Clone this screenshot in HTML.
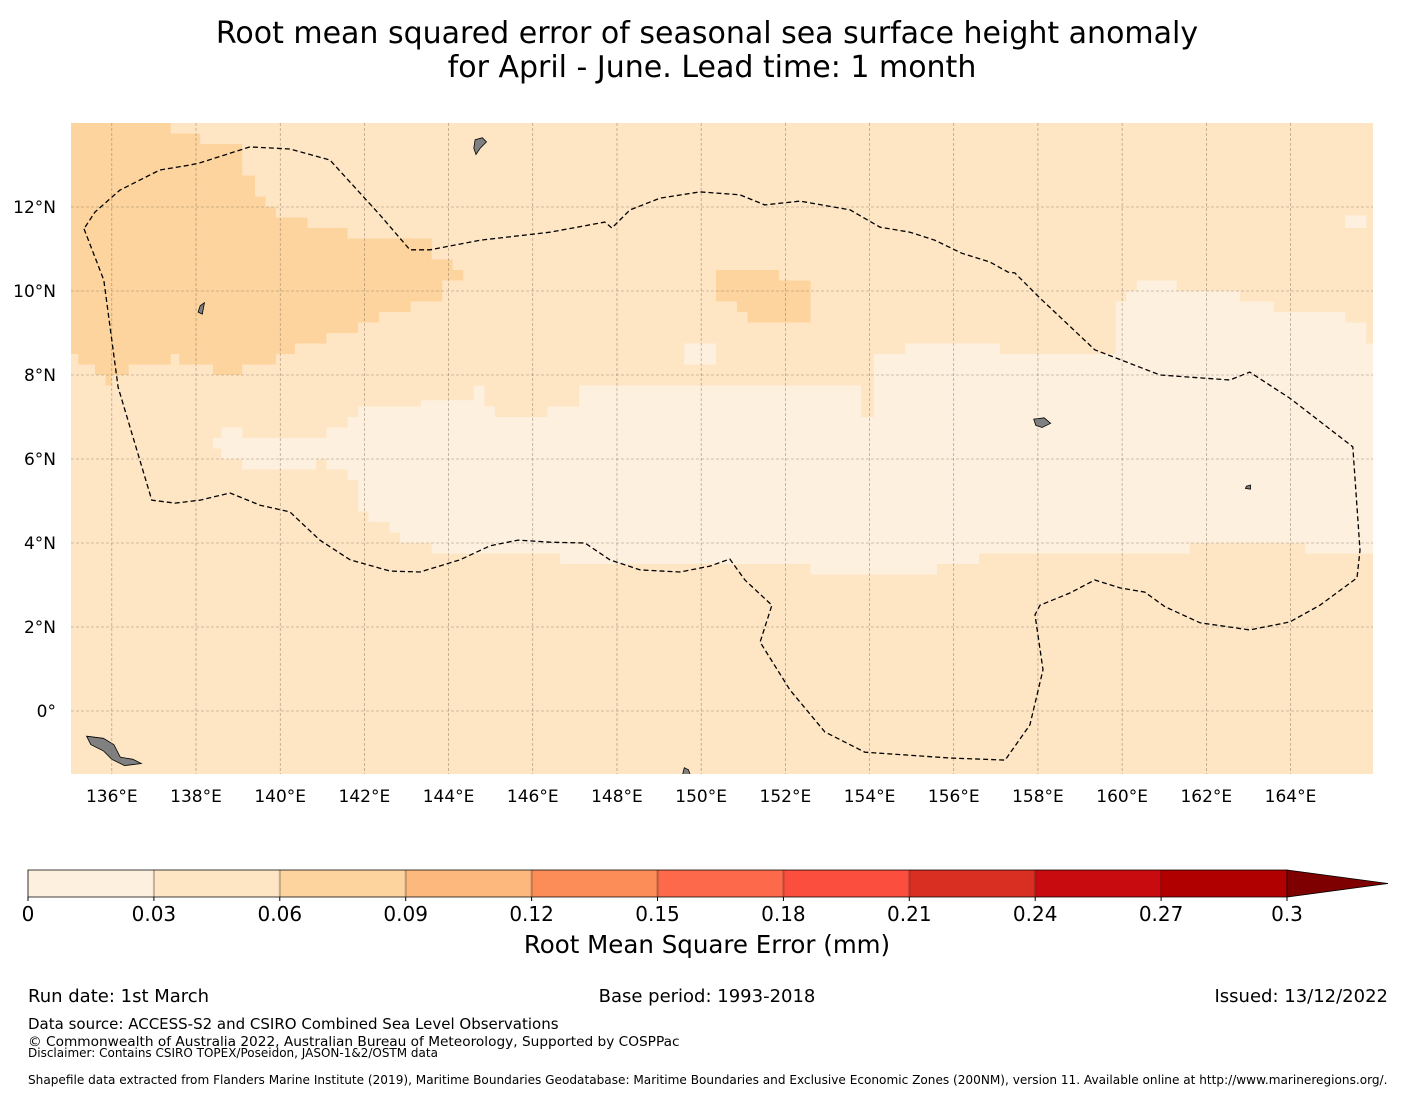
<!DOCTYPE html>
<html><head><meta charset="utf-8">
<style>
body{margin:0;background:#fff;width:1416px;height:1095px;overflow:hidden;font-family:"DejaVu Sans","Liberation Sans",sans-serif;}
svg{position:absolute;left:0;top:0}
</style></head>
<body>
<svg id="s" width="1416" height="1095" xmlns="http://www.w3.org/2000/svg">
<text x="707" y="43" font-size="30" text-anchor="middle">Root mean squared error of seasonal sea surface height anomaly</text>
<text x="712" y="77" font-size="30" text-anchor="middle">for April - June. Lead time: 1 month</text>
<defs><clipPath id="mc"><rect x="71" y="123" width="1302" height="651"/></clipPath></defs>
<g id="map" clip-path="url(#mc)"></g>
<g id="axes"></g>
<g id="cbar"></g>
<text x="707" y="953" font-size="24.5" text-anchor="middle">Root Mean Square Error (mm)</text>
<text x="28" y="1002" font-size="18">Run date: 1st March</text>
<text x="707" y="1002" font-size="18" text-anchor="middle">Base period: 1993-2018</text>
<text x="1388" y="1002" font-size="18" text-anchor="end">Issued: 13/12/2022</text>
<text x="28" y="1029" font-size="15">Data source: ACCESS-S2 and CSIRO Combined Sea Level Observations</text>
<text x="28" y="1046" font-size="13.7">© Commonwealth of Australia 2022, Australian Bureau of Meteorology, Supported by COSPPac</text>
<text x="28" y="1057" font-size="12">Disclaimer: Contains CSIRO TOPEX/Poseidon, JASON-1&amp;2/OSTM data</text>
<text x="28" y="1084" font-size="12.1">Shapefile data extracted from Flanders Marine Institute (2019), Maritime Boundaries Geodatabase: Maritime Boundaries and Exclusive Economic Zones (200NM), version 11. Available online at http://www.marineregions.org/.</text>
</svg>
<script>
const NS="http://www.w3.org/2000/svg";
const binEdges=[0,0.03,0.06,0.09,0.12,0.15,0.18,0.21,0.24,0.27,0.3];
const binColors=["#fef0df","#fee6c5","#fdd49e","#fdb87e","#fc8d59","#fc6a4b","#fb4e3e","#d92f22","#c80b0f","#b10000"];
const extColor="#7f0000";
const lonTicks=[136,138,140,142,144,146,148,150,152,154,156,158,160,162,164];
const latTicks=[0,2,4,6,8,10,12];
const backgroundValue=0.045;
const regionValues=[0.075,0.075,0.015,0.015,0.015];
const regionPolys=[
[[135,14],[137.4,14],[137.4,13.75],[138.1,13.75],[138.1,13.5],[139.1,13.5],[139.1,12.75],[139.4,12.75],[139.4,12.25],[139.65,12.25],[139.65,12],[139.9,12],[139.9,11.75],[140.65,11.75],[140.65,11.5],[141.6,11.5],[141.6,11.25],[143.6,11.25],[143.6,10.75],[144.1,10.75],[144.1,10.5],[144.35,10.5],[144.35,10.25],[143.85,10.25],[143.85,9.75],[143.1,9.75],[143.1,9.5],[142.35,9.5],[142.35,9.25],[141.85,9.25],[141.85,9],[141.1,9],[141.1,8.75],[140.35,8.75],[140.35,8.5],[139.9,8.5],[139.9,8.25],[139.1,8.25],[139.1,8],[138.4,8],[138.4,8.25],[137.6,8.25],[137.6,8.5],[137.4,8.5],[137.4,8.25],[136.4,8.25],[136.4,8],[136,8],[136,7.75],[135.85,7.75],[135.85,8],[135.6,8],[135.6,8.25],[135.2,8.25],[135.2,8.5],[135,8.5]],
[[150.35,10.5],[151.85,10.5],[151.85,10.25],[152.6,10.25],[152.6,9.25],[151.1,9.25],[151.1,9.5],[150.85,9.5],[150.85,9.75],[150.35,9.75]],
[[138.4,6.5],[138.6,6.5],[138.6,6.75],[139.1,6.75],[139.1,6.5],[141.1,6.5],[141.1,6.75],[141.6,6.75],[141.6,7],[141.85,7],[141.85,7.25],[143.35,7.25],[143.35,7.4],[144.6,7.4],[144.6,7.75],[144.85,7.75],[144.85,7.25],[145.1,7.25],[145.1,7],[146.35,7],[146.35,7.25],[147.1,7.25],[147.1,7.75],[153.8,7.75],[153.8,7],[154.1,7],[154.1,8.5],[154.85,8.5],[154.85,8.75],[155.6,8.75],[155.6,9],[155.6,8.75],[157.1,8.75],[157.1,8.5],[159.85,8.5],[159.85,9.75],[160.1,9.75],[160.1,10],[160.35,10],[160.35,10.25],[161.3,10.25],[161.3,10],[162.8,10],[162.8,9.75],[163.6,9.75],[163.6,9.5],[165.3,9.5],[165.3,9.25],[165.8,9.25],[165.8,8.75],[166.1,8.75],[166.1,3.75],[164.35,3.75],[164.35,4],[161.6,4],[161.6,3.75],[156.6,3.75],[156.6,3.5],[155.6,3.5],[155.6,3.25],[152.6,3.25],[152.6,3.5],[146.65,3.5],[146.65,3.75],[143.6,3.75],[143.6,4],[142.85,4],[142.85,4.25],[142.6,4.25],[142.6,4.5],[142.1,4.5],[142.1,4.75],[141.85,4.75],[141.85,5.5],[141.6,5.5],[141.6,5.75],[141.1,5.75],[141.1,6],[140.85,6],[140.85,5.75],[139.1,5.75],[139.1,6],[138.6,6],[138.6,6.25],[138.4,6.25]],
[[149.6,8.75],[150.35,8.75],[150.35,8.25],[149.6,8.25]],
[[165.3,11.8],[165.8,11.8],[165.8,11.5],[165.3,11.5]]
];
const eez=[[135.34,11.48],[135.81,10.26],[136.15,7.71],[136.95,5.02],[137.5,4.95],[138.09,5.02],[138.81,5.19],[139.52,4.9],[140.23,4.74],[140.94,4.07],[141.66,3.6],[142.61,3.33],[143.32,3.31],[144.27,3.6],[144.98,3.93],[145.65,4.07],[146.41,4.02],[147.24,4],[147.83,3.6],[148.55,3.36],[149.5,3.31],[150.21,3.45],[150.68,3.62],[151.04,3.12],[151.68,2.52],[151.4,1.64],[152.11,0.5],[152.94,-0.5],[153.89,-0.98],[155.91,-1.12],[157.22,-1.17],[157.81,-0.33],[158.12,0.98],[157.93,2.29],[158.05,2.52],[158.76,2.81],[159.35,3.12],[159.95,2.93],[160.54,2.83],[161.02,2.48],[161.85,2.1],[163.03,1.93],[163.98,2.12],[164.7,2.52],[165.58,3.17],[165.65,3.83],[165.48,6.29],[163.98,7.45],[163.03,8.07],[162.56,7.88],[160.9,8],[159.35,8.6],[158.05,9.83],[157.45,10.43],[157.29,10.45],[156.86,10.69],[156.19,10.9],[155.55,11.21],[154.96,11.4],[154.25,11.52],[153.54,11.93],[152.35,12.14],[151.51,12.05],[150.92,12.29],[149.97,12.36],[149.02,12.21],[148.31,11.93],[147.88,11.5],[147.71,11.64],[146.41,11.4],[144.75,11.21],[143.56,10.98],[143.08,10.98],[142.37,11.81],[141.18,13.12],[140.23,13.38],[139.28,13.43],[138.09,13.05],[137.86,13],[137.14,12.88],[136.19,12.4],[135.6,11.88],[135.34,11.48]];
const islands=[
[[144.63,13.6],[144.8,13.65],[144.9,13.55],[144.75,13.4],[144.65,13.25],[144.6,13.4]],
[[138.1,9.65],[138.2,9.72],[138.15,9.45],[138.05,9.5]],
[[157.9,6.95],[158.15,6.98],[158.3,6.85],[158.1,6.75],[157.95,6.8]],
[[162.95,5.35],[163.05,5.38],[163.05,5.28],[162.93,5.3]],
[[135.4,-0.6],[135.8,-0.65],[136.05,-0.8],[136.2,-1.1],[136.5,-1.15],[136.7,-1.25],[136.3,-1.3],[136.0,-1.15],[135.8,-0.95],[135.5,-0.8]],
[[149.6,-1.35],[149.7,-1.4],[149.75,-1.55],[149.55,-1.55]]
];
const L0=135.03,L1=165.96,T=14,B=-1.5,X0=71,X1=1373,Y0=123,Y1=774;
const xs=l=>X0+(l-L0)/(L1-L0)*(X1-X0);
const ys=a=>Y0+(T-a)/(T-B)*(Y1-Y0);
const colorFor=v=>{for(let i=0;i<binColors.length;i++)if(v<binEdges[i+1])return binColors[i];return extColor;};
const mk=(t,a,p)=>{const e=document.createElementNS(NS,t);for(const k in a)e.setAttribute(k,a[k]);p.appendChild(e);return e;};
const pts=p=>p.map(q=>xs(q[0]).toFixed(1)+","+ys(q[1]).toFixed(1)).join(" ");
const map=document.getElementById("map"),ax=document.getElementById("axes"),cb=document.getElementById("cbar");
let bg=mk("rect",{x:X0,y:Y0,width:X1-X0,height:Y1-Y0,fill:colorFor(backgroundValue)},map);


regionPolys.forEach((p,i)=>{const e=mk("polygon",{points:pts(p),fill:colorFor(regionValues[i])},map);

});
islands.forEach((p,i)=>{const e=mk("polygon",{points:pts(p),fill:"#808080",stroke:"#000","stroke-width":0.8},map);

});
lonTicks.forEach(l=>{const g=mk("line",{x1:xs(l),x2:xs(l),y1:Y0,y2:Y1,stroke:"#7a6a55","stroke-width":0.6,"stroke-dasharray":"3,2",opacity:0.7},map);


const t=mk("text",{x:xs(l),y:802,"font-size":17,"text-anchor":"middle"},ax);t.textContent=l+"°E";

});
latTicks.forEach(a=>{const g=mk("line",{x1:X0,x2:X1,y1:ys(a),y2:ys(a),stroke:"#7a6a55","stroke-width":0.6,"stroke-dasharray":"3,2",opacity:0.7},map);


const t=mk("text",{x:56,y:ys(a)+6,"font-size":17,"text-anchor":"end"},ax);t.textContent=a===0?"0°":a+"°N";

});
const ez=mk("polyline",{points:pts(eez),fill:"none",stroke:"#000","stroke-width":1.3,"stroke-dasharray":"5,3"},map);


const CX0=28,CX1=1287,CY=870,CH=27;
const cxs=v=>CX0+v/binEdges[binEdges.length-1]*(CX1-CX0);
binColors.forEach((c,i)=>{const r=mk("rect",{x:cxs(binEdges[i]),y:CY,width:cxs(binEdges[i+1])-cxs(binEdges[i]),height:CH,fill:c},cb);


if(i>0){const d=mk("line",{x1:cxs(binEdges[i]),x2:cxs(binEdges[i]),y1:CY,y2:CY+CH,stroke:"#000","stroke-opacity":0.25,"stroke-width":2},cb);

}});
const ext=mk("polygon",{points:`${CX1},${CY} ${CX1+101},${CY+CH/2} ${CX1},${CY+CH}`,fill:extColor,stroke:"#000","stroke-width":0.8},cb);


const ol=mk("polyline",{points:`${CX1},${CY} ${CX0},${CY} ${CX0},${CY+CH} ${CX1},${CY+CH}`,fill:"none",stroke:"#000","stroke-width":0.8},cb);


binEdges.forEach(v=>{const k=mk("line",{x1:cxs(v),x2:cxs(v),y1:CY+CH,y2:CY+CH+4,stroke:"#000"},cb);


const t=mk("text",{x:cxs(v),y:921,"font-size":20,"text-anchor":"middle"},cb);t.textContent=String(v);

});
</script>
</body></html>
